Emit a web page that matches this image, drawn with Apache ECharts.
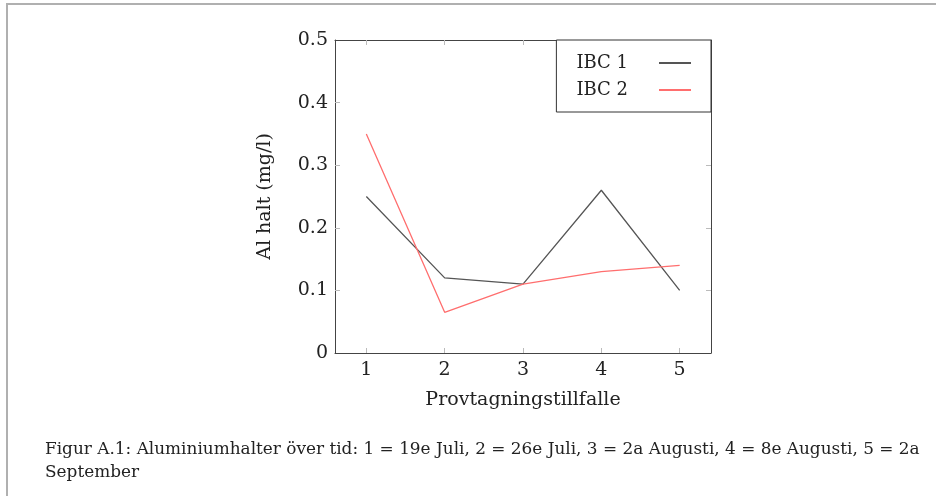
<!DOCTYPE html>
<html><head><meta charset="utf-8">
<script src="https://cdn.jsdelivr.net/npm/echarts@6/dist/echarts.min.js"></script>
<style>html,body{margin:0;padding:0;background:#fff}#c{width:936px;height:496px}</style>
</head><body><div id="c"></div>
<script>
const occasions = [1, 2, 3, 4, 5];
const ibc1 = [0.25, 0.12, 0.11, 0.26, 0.10];
const ibc2 = [0.35, 0.065, 0.11, 0.13, 0.14];
const yTicks = [0, 0.1, 0.2, 0.3, 0.4, 0.5];
const seriesNames = ['IBC 1', 'IBC 2'];
const xTitle = 'Provtagningstillfalle';
const yTitle = 'Al halt (mg/l)';
const caption = 'Figur A.1: Aluminiumhalter över tid: 1 = 19e Juli, 2 = 26e Juli, 3 = 2a Augusti, 4 = 8e Augusti, 5 = 2a\nSeptember';

const FONT = 'DejaVu Serif';
const chart = echarts.init(document.getElementById('c'), null, {renderer: 'canvas'});
const tickStyle = {show: true, inside: true, length: 5, lineStyle: {color: '#bbb', width: 1}};
const lineAx = {show: true, onZero: false, lineStyle: {color: '#444', width: 1}};
chart.setOption({
  animation: false,
  backgroundColor: '#fff',
  textStyle: {fontFamily: FONT},
  graphic: [{
    type: 'rect', shape: {x: 7, y: 4, width: 1000, height: 600},
    style: {fill: 'none', stroke: '#b0b0b0', lineWidth: 2}, silent: true
  }],
  title: {
    text: caption, left: 40, top: 433,
    textStyle: {fontFamily: FONT, fontSize: 16.9, fontWeight: 'normal', color: '#222', lineHeight: 23}
  },
  grid: {left: 335, top: 40, width: 376, height: 313, containLabel: false},
  legend: {
    right: 225, top: 40, orient: 'vertical', align: 'right',
    data: seriesNames,
    itemWidth: 32, itemHeight: 20, itemGap: 9,
    padding: [14, 19, 13, 20],
    borderColor: '#333', borderWidth: 1, backgroundColor: '#fff',
    itemStyle: {opacity: 0},
    textStyle: {fontFamily: FONT, fontSize: 18, color: '#222', padding: [0, 26, 0, 0]}
  },
  xAxis: [{
    type: 'value', min: 0.6, max: 5.4, position: 'bottom', z: 3,
    name: xTitle, nameLocation: 'middle', nameGap: 38,
    nameTextStyle: {fontFamily: FONT, fontSize: 19, color: '#222'},
    axisLine: lineAx, splitLine: {show: false},
    axisTick: Object.assign({customValues: occasions}, tickStyle),
    axisLabel: {customValues: occasions, fontFamily: FONT, fontSize: 19, color: '#222', margin: 8}
  }, {
    type: 'value', min: 0.6, max: 5.4, position: 'top', z: 3,
    axisLine: lineAx, splitLine: {show: false},
    axisTick: Object.assign({customValues: occasions}, tickStyle),
    axisLabel: {show: false}
  }],
  yAxis: [{
    type: 'value', min: 0, max: 0.5, interval: 0.1, position: 'left',
    name: yTitle, nameLocation: 'middle', nameGap: 60, nameRotate: 90,
    nameTextStyle: {fontFamily: FONT, fontSize: 19, color: '#222'},
    axisLine: lineAx, splitLine: {show: false},
    axisTick: tickStyle,
    axisLabel: {fontFamily: FONT, fontSize: 19, color: '#222', margin: 7,
      formatter: v => String(+v.toFixed(2))}
  }, {
    type: 'value', min: 0, max: 0.5, interval: 0.1, position: 'right',
    axisLine: lineAx, splitLine: {show: false},
    axisTick: tickStyle, axisLabel: {show: false}
  }],
  series: [{
    name: seriesNames[0], type: 'line', symbol: 'none',
    data: occasions.map((x, i) => [x, ibc1[i]]),
    lineStyle: {color: '#555', width: 1.3}, itemStyle: {color: '#555'}
  }, {
    name: seriesNames[1], type: 'line', symbol: 'none',
    data: occasions.map((x, i) => [x, ibc2[i]]),
    lineStyle: {color: '#ff6e6e', width: 1.3}, itemStyle: {color: '#ff6e6e'}
  }]
});
</script></body></html>
